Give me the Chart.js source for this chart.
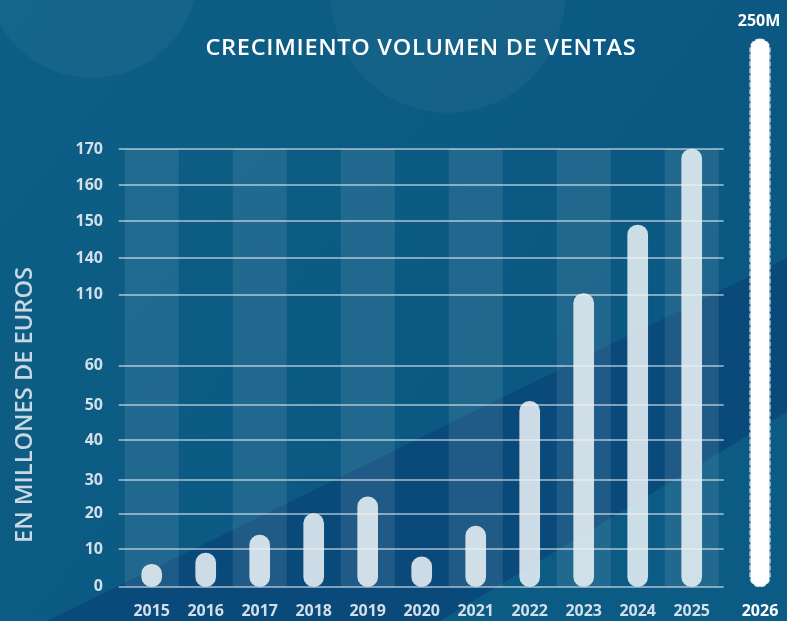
<!DOCTYPE html>
<html>
<head>
<meta charset="utf-8">
<script src="https://cdn.jsdelivr.net/npm/chart.js@4.4.1/dist/chart.umd.min.js"></script>
<style>
  html, body { margin: 0; padding: 0; background: #0b5a82; }
  #wrap { position: relative; width: 787px; height: 621px; overflow: hidden; }
  #chart { position: absolute; left: 0; top: 0; }
  #title {
    position: absolute; top: 33px; left: 420.5px; transform-origin: 0 50%;
    white-space: nowrap; color: #ffffff; font-family: "Open Sans", sans-serif;
    font-weight: 600; font-size: 21px; line-height: 28px; letter-spacing: 0.6px;
  }
</style>
</head>
<body>
<div id="wrap">
  <canvas id="chart" width="787" height="621"></canvas>
  <div id="title"></div>
</div>
<script>
// ---------- data ----------
const years = ['2015', '2016', '2017', '2018', '2019', '2020', '2021', '2022', '2023', '2024', '2025'];
const sales = [6, 9, 14, 20, 25, 8, 16.5, 51, 111, 149, 170];
const yTickValues = [0, 10, 20, 30, 40, 50, 60, 110, 140, 150, 160, 170];
const projectionYear = '2026';
const projectionValue = 250;
const projectionLabel = '250M';
const chartTitle = 'CRECIMIENTO VOLUMEN DE VENTAS';
const yAxisTitle = 'EN MILLONES DE EUROS';

// ---------- layout of the (non-uniform) value axis ----------
// value -> relative height (px units from the zero line) as drawn in the original
const axisBreakValues = [0, 10, 20, 30, 40, 50, 60, 110, 140, 150, 160, 170, 250];
const axisBreakHeights = [0, 37.4, 73, 106.7, 146.4, 181.4, 221, 292, 328.7, 365.4, 401.7, 437.7, 547.7];

const LinearScale = Chart.LinearScale;
class BrokenScale extends LinearScale {
  buildTicks() { return yTickValues.map(v => ({ value: v })); }
  _h(v) {
    const vs = axisBreakValues, hs = axisBreakHeights;
    if (v <= vs[0]) return hs[0];
    for (let i = 1; i < vs.length; i++) {
      if (v <= vs[i]) {
        const t = (v - vs[i - 1]) / (vs[i] - vs[i - 1]);
        return hs[i - 1] + t * (hs[i] - hs[i - 1]);
      }
    }
    return hs[hs.length - 1];
  }
  getPixelForValue(v) {
    const total = axisBreakHeights[axisBreakHeights.length - 1];
    return this.bottom - this._h(v) / total * (this.bottom - this.top);
  }
  getValueForPixel(px) {
    const total = axisBreakHeights[axisBreakHeights.length - 1];
    const h = (this.bottom - px) / (this.bottom - this.top) * total;
    const vs = axisBreakValues, hs = axisBreakHeights;
    for (let i = 1; i < hs.length; i++) {
      if (h <= hs[i]) {
        const t = (h - hs[i - 1]) / (hs[i] - hs[i - 1]);
        return vs[i - 1] + t * (vs[i] - vs[i - 1]);
      }
    }
    return vs[vs.length - 1];
  }
}
BrokenScale.id = 'broken';
BrokenScale.defaults = {};
Chart.register(BrokenScale);

// ---------- title (stretched to the original's width) ----------
(function () {
  const el = document.getElementById('title');
  el.textContent = chartTitle;
  const target = 431;
  const w = el.getBoundingClientRect().width;
  const s = target / w;
  el.style.transform = 'translateX(' + (-target / 2).toFixed(1) + 'px) scaleX(' + s.toFixed(4) + ')';
})();

const FONT = '"Open Sans", sans-serif';

function roundRect(ctx, x, y, w, h, r) {
  r = Math.min(r, w / 2, h / 2);
  ctx.beginPath();
  ctx.moveTo(x + r, y);
  ctx.lineTo(x + w - r, y);
  ctx.arc(x + w - r, y + r, r, -Math.PI / 2, 0);
  ctx.lineTo(x + w, y + h - r);
  ctx.arc(x + w - r, y + h - r, r, 0, Math.PI / 2);
  ctx.lineTo(x + r, y + h);
  ctx.arc(x + r, y + h - r, r, Math.PI / 2, Math.PI);
  ctx.lineTo(x, y + r);
  ctx.arc(x + r, y + r, r, Math.PI, Math.PI * 1.5);
  ctx.closePath();
}

const decor = {
  id: 'decor',
  beforeDraw(chart) {
    const ctx = chart.ctx, W = chart.width, H = chart.height;
    ctx.save();
    const g = ctx.createLinearGradient(0, 0, W, H);
    g.addColorStop(0, '#0d5f86');
    g.addColorStop(1, '#0a5580');
    ctx.fillStyle = g;
    ctx.fillRect(0, 0, W, H);
    // soft circles at the top
    ctx.fillStyle = 'rgba(255,255,255,0.04)';
    ctx.beginPath(); ctx.arc(92, -28, 106, 0, Math.PI * 2); ctx.fill();
    ctx.beginPath(); ctx.arc(448, -4, 117, 0, Math.PI * 2); ctx.fill();
    // dark diagonal band
    ctx.fillStyle = '#0a4a7b';
    ctx.beginPath();
    ctx.moveTo(0, 644); ctx.lineTo(W, 258); ctx.lineTo(W, 412); ctx.lineTo(440, 621); ctx.lineTo(0, 621);
    ctx.closePath(); ctx.fill();
    // lighter band bottom-right
    ctx.fillStyle = '#0c5b84';
    ctx.beginPath();
    ctx.moveTo(440, 621); ctx.lineTo(W, 412); ctx.lineTo(W, H);
    ctx.closePath(); ctx.fill();
    ctx.restore();
  },
  beforeDatasetsDraw(chart) {
    const ctx = chart.ctx, x = chart.scales.x, y = chart.scales.y;
    const area = chart.chartArea;
    const yTop = y.getPixelForValue(yTickValues[yTickValues.length - 1]);
    const yBot = y.getPixelForValue(0);
    const step = (area.right - area.left) / years.length;
    ctx.save();
    ctx.fillStyle = 'rgba(255,255,255,0.09)';
    years.forEach((yr, i) => {
      if (i % 2 === 0) {
        const cx = x.getPixelForValue(i);
        ctx.fillRect(cx - step / 2, yTop, step, yBot - yTop);
      }
    });
    ctx.strokeStyle = 'rgba(255,255,255,0.48)';
    ctx.lineWidth = 2;
    yTickValues.forEach(v => {
      const py = Math.round(y.getPixelForValue(v));
      ctx.beginPath();
      ctx.moveTo(area.left - 6, py);
      ctx.lineTo(area.right + 5, py);
      ctx.stroke();
    });
    ctx.restore();
  },
  afterDraw(chart) {
    const ctx = chart.ctx, y = chart.scales.y, area = chart.chartArea;
    ctx.save();
    // projection column
    const cx = area.right + 41.3;
    const top = y.getPixelForValue(projectionValue);
    const bot = y.getPixelForValue(0);
    ctx.fillStyle = '#ffffff';
    roundRect(ctx, cx - 9.5, top, 19, bot - top, 9.5);
    ctx.fill();
    ctx.setLineDash([5, 2]);
    ctx.strokeStyle = 'rgba(255,255,255,0.8)';
    ctx.lineWidth = 1.2;
    roundRect(ctx, cx - 10, top, 20, bot - top, 10);
    ctx.stroke();
    ctx.setLineDash([]);
    ctx.fillStyle = '#ffffff';
    ctx.font = '700 16px ' + FONT;
    ctx.textAlign = 'center';
    ctx.textBaseline = 'middle';
    ctx.fillText(projectionLabel, cx - 1, 21);
    ctx.fillText(projectionYear, cx, 611);
    // y axis title
    ctx.translate(25, 405);
    ctx.rotate(-Math.PI / 2);
    ctx.fillStyle = '#c9d9e4';
    ctx.font = '600 23px ' + FONT;
    const w = ctx.measureText(yAxisTitle).width;
    const target = 276;
    ctx.scale(target / w, 1);
    ctx.fillText(yAxisTitle, 0, 0);
    ctx.restore();
  }
};

new Chart(document.getElementById('chart'), {
  type: 'bar',
  data: {
    labels: years,
    datasets: [{
      data: sales,
      backgroundColor: 'rgba(236,243,247,0.86)',
      barThickness: 20,
      borderRadius: 10,
      borderSkipped: false
    }]
  },
  options: {
    responsive: false,
    animation: false,
    devicePixelRatio: 1,
    layout: { padding: { left: 0, right: 68.3, top: 39, bottom: 0 } },
    plugins: { legend: { display: false }, tooltip: { enabled: false }, title: { display: false } },
    scales: {
      x: {
        type: 'category',
        grid: { display: false, drawTicks: false },
        border: { display: false },
        ticks: { color: '#d3dfe8', font: { family: FONT, size: 16, weight: '700' }, padding: 15 },
        afterFit: s => { s.height = 34.3; }
      },
      y: {
        type: 'broken',
        min: 0,
        max: projectionValue,
        grid: { display: false, drawTicks: false },
        border: { display: false },
        ticks: { color: '#d3dfe8', font: { family: FONT, size: 16, weight: '700' }, padding: 21.7, callback: v => String(v) },
        afterFit: s => { s.width = 124.7; }
      }
    }
  },
  plugins: [decor]
});
</script>
</body>
</html>
